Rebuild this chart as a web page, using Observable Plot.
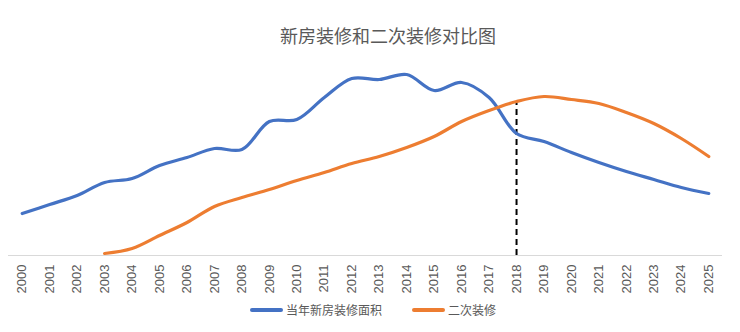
<!DOCTYPE html>
<html>
<head>
<meta charset="utf-8">
<script src="https://cdn.jsdelivr.net/npm/d3@7"></script>
<script src="https://cdn.jsdelivr.net/npm/@observablehq/plot@0.6"></script>
<style>
  body { margin: 0; background: #fff; font-family: "Liberation Sans", "Noto Sans CJK SC", sans-serif; }
  #title { height: 55px; box-sizing: border-box; padding-top: 25px; line-height: 20px; font-size: 18px; color: #595959; text-align: center; padding-left: 36px; font-family: "Noto Sans CJK SC", sans-serif; }
  #legend { height: 26px; line-height: 26px; font-size: 12px; color: #595959; position: relative; font-family: "Noto Sans CJK SC", sans-serif; }
  .item { position: absolute; top: 0; display: flex; align-items: center; height: 26px; }
  .sw { display: inline-block; width: 33px; height: 4px; border-radius: 2px; margin-right: 3px; }
</style>
</head>
<body>
<div id="title">新房装修和二次装修对比图</div>
<div id="chart"></div>
<div id="legend"></div>
<script>
const years = d3.range(2000, 2026);
const seriesNames = ["当年新房装修面积", "二次装修"];
const newHomeValues = [42, 51, 60, 73, 77, 90, 98, 107, 106, 134, 136, 158, 177, 176, 181, 165, 173, 158, 122, 114, 103, 93, 84, 76, 68, 62];
const secondYears = d3.range(2003, 2026);
const secondValues = [2, 7, 20, 33, 49, 58, 66, 75, 83, 92, 99, 108, 119, 134, 145, 154, 159, 156, 152, 143, 132, 117, 99];
const markerYear = 2018;
const colors = ["#4472C4", "#ED7D31"];

const data = [
  ...years.map((y, i) => ({year: y, value: newHomeValues[i], series: seriesNames[0]})),
  ...secondYears.map((y, i) => ({year: y, value: secondValues[i], series: seriesNames[1]}))
];
const markerValue = secondValues[secondYears.indexOf(markerYear)];

const chart = Plot.plot({
  width: 740,
  height: 242,
  marginTop: 0,
  marginLeft: 8,
  marginRight: 18,
  marginBottom: 42,
  x: {domain: [1999.5, 2025.5], axis: null},
  y: {domain: [0, 200], axis: null},
  color: {domain: seriesNames, range: colors},
  style: {fontFamily: "Liberation Sans, Arial, sans-serif", color: "#595959", background: "transparent"},
  marks: [
    Plot.ruleY([0], {stroke: "#d9d9d9", strokeWidth: 1.2}),
    Plot.ruleX([markerYear], {y1: 0, y2: markerValue, stroke: "#000", strokeWidth: 2, strokeDasharray: "6,4"}),
    Plot.line(data, {x: "year", y: "value", z: "series", stroke: "series", strokeWidth: 3.2, curve: "catmull-rom"}),
    Plot.axisX(years, {label: null, tickFormat: d => String(d), tickSize: 0, tickPadding: 9, tickRotate: -90, fontSize: 13, fill: "#595959"})
  ]
});
document.getElementById("chart").appendChild(chart);

const legend = document.getElementById("legend");
const pos = [250, 412];
seriesNames.forEach((name, i) => {
  const item = document.createElement("div");
  item.className = "item";
  item.style.left = pos[i] + "px";
  item.innerHTML = `<span class="sw" style="background:${colors[i]}"></span><span>${name}</span>`;
  legend.appendChild(item);
});
</script>
</body>
</html>
